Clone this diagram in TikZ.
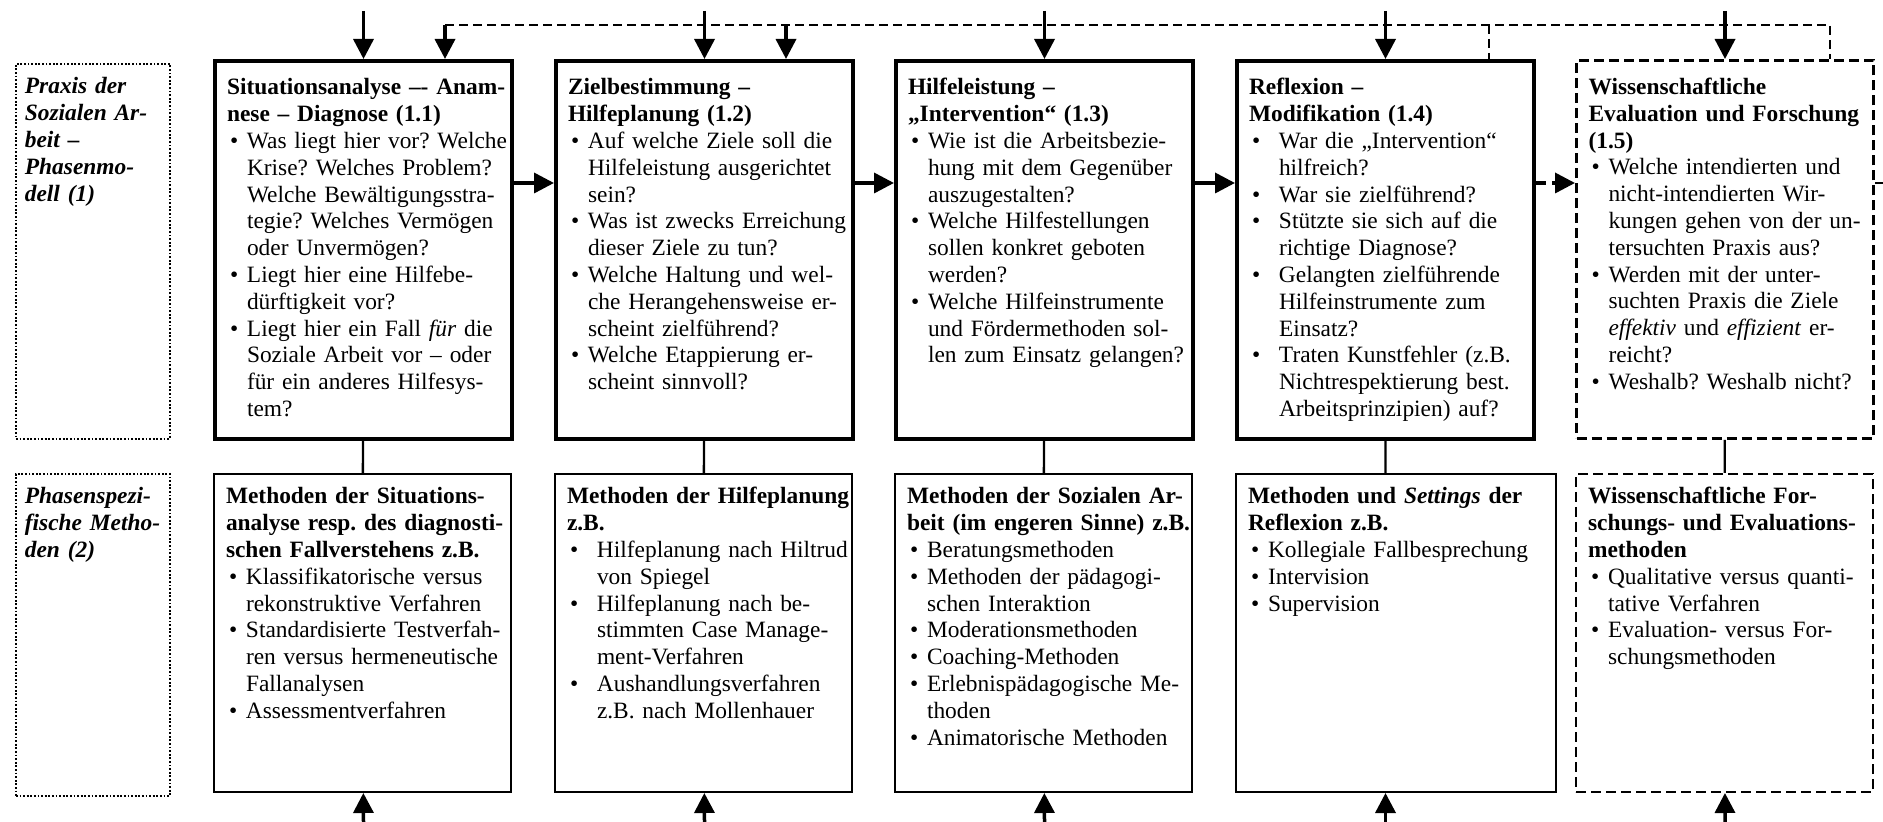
\documentclass[tikz,border=0pt]{standalone}
\usepackage{fontspec}
\setmainfont{Liberation Serif}
\usetikzlibrary{arrows.meta}
\frenchspacing
\newcommand{\pbul}{\makebox[10pt][l]{\hspace{1.5pt}\textbullet}}
\newcommand{\pcont}{\hspace*{10pt}}
\newcommand{\wbul}{\makebox[15pt][l]{\hspace{1.5pt}\textbullet}}
\newcommand{\wcont}{\hspace*{15pt}}
\begin{document}
\begin{tikzpicture}[x=0.5pt,y=-0.5pt,
	txt/.style={font=\fontsize{11.7}{13.4}\selectfont, align=left, anchor=north west, inner xsep=6pt, inner ysep=0pt, text height=15pt},
	phase/.style={txt, draw, line width=2pt, text width=136.5pt, text height=17pt, text depth=172pt},
	method/.style={txt, draw, line width=1pt, text width=136.5pt, text depth=144pt},
	lab/.style={txt, draw, line width=0.9pt, dash pattern=on 0.9pt off 0.9pt, font=\fontsize{11.7}{13.4}\selectfont\bfseries\itshape, inner xsep=4.5pt, text width=68pt},
	research/.style={dash pattern=on 5pt off 2.5pt},
	arr/.style={line width=1.75pt, -{Triangle[length=10pt,width=10pt]}},
	fb/.style={line width=0.7pt, dash pattern=on 4.5pt off 2.5pt}]
	\useasboundingbox (0,0) rectangle (1883,822);
	\node[lab, text depth=172.5pt] (lb-1) at (15,63) {\begin{tabular}[t]{@{}l@{}}Praxis der\\Sozialen Ar-\\beit –\\Phasenmo-\\dell (1)\end{tabular}};
	\node[lab, text depth=146pt] (lb-2) at (15,473) {\begin{tabular}[t]{@{}l@{}}Phasenspezi-\\\makebox[66.5pt][s]{fische Metho-}\\den (2)\end{tabular}};
	\node[phase] (ph-1) at (213,59) {\begin{tabular}[t]{@{}l@{}}
		\textbf{Situationsanalyse –\mbox{-} Anam-}\\
		\textbf{nese – Diagnose (1.1)}\\
		\pbul Was liegt hier vor? Welche\\
		\pcont Krise? Welches Problem?\\
		\pcont Welche Bewältigungsstra-\\
		\pcont tegie? Welches Vermögen\\
		\pcont oder Unvermögen?\\
		\pbul Liegt hier eine Hilfebe-\\
		\pcont dürftigkeit vor?\\
		\pbul Liegt hier ein Fall \textit{für} die\\
		\pcont Soziale Arbeit vor – oder\\
		\pcont für ein anderes Hilfesys-\\
		\pcont tem?\end{tabular}};
	\node[phase] (ph-2) at (554,59) {\begin{tabular}[t]{@{}l@{}}
		\textbf{Zielbestimmung –}\\
		\textbf{Hilfeplanung (1.2)}\\
		\pbul Auf welche Ziele soll die\\
		\pcont Hilfeleistung ausgerichtet\\
		\pcont sein?\\
		\pbul Was ist zwecks Erreichung\\
		\pcont dieser Ziele zu tun?\\
		\pbul Welche Haltung und wel-\\
		\pcont che Herangehensweise er-\\
		\pcont scheint zielführend?\\
		\pbul Welche Etappierung er-\\
		\pcont scheint sinnvoll?\end{tabular}};
	\node[phase] (ph-3) at (894,59) {\begin{tabular}[t]{@{}l@{}}
		\textbf{Hilfeleistung –}\\
		\textbf{„Intervention“ (1.3)}\\
		\pbul Wie ist die Arbeitsbezie-\\
		\pcont hung mit dem Gegenüber\\
		\pcont auszugestalten?\\
		\pbul Welche Hilfestellungen\\
		\pcont sollen konkret geboten\\
		\pcont werden?\\
		\pbul Welche Hilfeinstrumente\\
		\pcont und Fördermethoden sol-\\
		\pcont len zum Einsatz gelangen?\end{tabular}};
	\node[phase] (ph-4) at (1235,59) {\begin{tabular}[t]{@{}l@{}}
		\textbf{Reflexion –}\\
		\textbf{Modifikation (1.4)}\\
		\wbul War die „Intervention“\\
		\wcont hilfreich?\\
		\wbul War sie zielführend?\\
		\wbul Stützte sie sich auf die\\
		\wcont richtige Diagnose?\\
		\wbul Gelangten zielführende\\
		\wcont Hilfeinstrumente zum\\
		\wcont Einsatz?\\
		\wbul Traten Kunstfehler (z.B.\\
		\wcont Nichtrespektierung best.\\
		\wcont Arbeitsprinzipien) auf?\end{tabular}};
	\node[phase, research, line width=1.5pt] (ph-5) at (1575,59) {\begin{tabular}[t]{@{}l@{}}
		\textbf{Wissenschaftliche}\\
		\textbf{Evaluation und Forschung}\\
		\textbf{(1.5)}\\
		\pbul Welche intendierten und\\
		\pcont nicht-intendierten Wir-\\
		\pcont kungen gehen von der un-\\
		\pcont tersuchten Praxis aus?\\
		\pbul Werden mit der unter-\\
		\pcont suchten Praxis die Ziele\\
		\pcont \textit{effektiv} und \textit{effizient} er-\\
		\pcont reicht?\\
		\pbul Weshalb? Weshalb nicht?\end{tabular}};
	\node[method] (me-1) at (213,473) {\begin{tabular}[t]{@{}l@{}}
		\textbf{Methoden der Situations-}\\
		\textbf{analyse resp. des diagnosti-}\\
		\textbf{schen Fallverstehens z.B.}\\
		\pbul Klassifikatorische versus\\
		\pcont rekonstruktive Verfahren\\
		\pbul Standardisierte Testverfah-\\
		\pcont ren versus hermeneutische\\
		\pcont Fallanalysen\\
		\pbul Assessmentverfahren\end{tabular}};
	\node[method] (me-2) at (554,473) {\begin{tabular}[t]{@{}l@{}}
		\textbf{Methoden der Hilfeplanung}\\
		\textbf{z.B.}\\
		\wbul Hilfeplanung nach Hiltrud\\
		\wcont von Spiegel\\
		\wbul Hilfeplanung nach be-\\
		\wcont stimmten Case Manage-\\
		\wcont ment-Verfahren\\
		\wbul Aushandlungsverfahren\\
		\wcont z.B. nach Mollenhauer\end{tabular}};
	\node[method] (me-3) at (894,473) {\begin{tabular}[t]{@{}l@{}}
		\textbf{Methoden der Sozialen Ar-}\\
		\textbf{beit (im engeren Sinne) z.B.}\\
		\pbul Beratungsmethoden\\
		\pbul Methoden der pädagogi-\\
		\pcont schen Interaktion\\
		\pbul Moderationsmethoden\\
		\pbul Coaching-Methoden\\
		\pbul Erlebnispädagogische Me-\\
		\pcont thoden\\
		\pbul Animatorische Methoden\end{tabular}};
	\node[method, text width=148pt] (me-4) at (1235,473) {\begin{tabular}[t]{@{}l@{}}
		\textbf{Methoden und \textit{Settings} der}\\
		\textbf{Reflexion z.B.}\\
		\pbul Kollegiale Fallbesprechung\\
		\pbul Intervision\\
		\pbul Supervision\end{tabular}};
	\node[method, research] (me-5) at (1575,473) {\begin{tabular}[t]{@{}l@{}}
		\textbf{Wissenschaftliche For-}\\
		\textbf{schungs- und Evaluations-}\\
		\textbf{methoden}\\
		\pbul Qualitative versus quanti-\\
		\pcont tative Verfahren\\
		\pbul Evaluation- versus For-\\
		\pcont schungsmethoden\end{tabular}};
	\coordinate (in-1) at (ph-1.north |- 0,11); \coordinate (in-2) at (ph-2.north |- 0,11);
	\coordinate (in-3) at (ph-3.north |- 0,11); \coordinate (in-4) at (ph-4.north |- 0,11);
	\coordinate (in-5) at (ph-5.north |- 0,11);
	\coordinate (out-1) at (ph-1.south |- 0,822); \coordinate (out-2) at (ph-2.south |- 0,822);
	\coordinate (out-3) at (ph-3.south |- 0,822); \coordinate (out-4) at (ph-4.south |- 0,822);
	\coordinate (out-5) at (ph-5.south |- 0,822);
	\coordinate (fb-1) at (445,25); \coordinate (fb-2) at (786,25);
	\coordinate (fb-4) at (1489,25); \coordinate (fb-5) at (1830,25);
	\coordinate (cut) at (1883,183);
	\draw[arr] (in-1) -- (ph-1); \draw[arr] (in-2) -- (ph-2); \draw[arr] (in-3) -- (ph-3);
	\draw[arr] (in-4) -- (ph-4); \draw[arr] (in-5) -- (ph-5);
	\draw[fb] (fb-1) -- (fb-5) -- (fb-5 |- ph-5.north) (fb-4) -- (fb-4 |- ph-4.north);
	\draw[arr] (fb-1) -- (fb-1 |- ph-1.north); \draw[arr] (fb-2) -- (fb-2 |- ph-2.north);
	\draw[arr] (ph-1.east |- cut) -- (ph-2.west |- cut);
	\draw[arr] (ph-2.east |- cut) -- (ph-3.west |- cut);
	\draw[arr] (ph-3.east |- cut) -- (ph-4.west |- cut);
	\draw[arr, dash pattern=on 5pt off 3pt] (ph-4.east |- cut) -- (ph-5.west |- cut);
	\draw[line width=0.7pt] (ph-5.east |- cut) -- (cut);
	\draw[line width=1.2pt] (ph-1) -- (me-1) (ph-2) -- (me-2) (ph-3) -- (me-3) (ph-4.south) -- (ph-4.south |- me-4.north) (ph-5) -- (me-5);
	\draw[arr] (out-1) -- (me-1); \draw[arr] (out-2) -- (me-2); \draw[arr] (out-3) -- (me-3);
	\draw[arr] (out-4) -- (ph-4.south |- me-4.south); \draw[arr] (out-5) -- (me-5);
\end{tikzpicture}
\end{document}
